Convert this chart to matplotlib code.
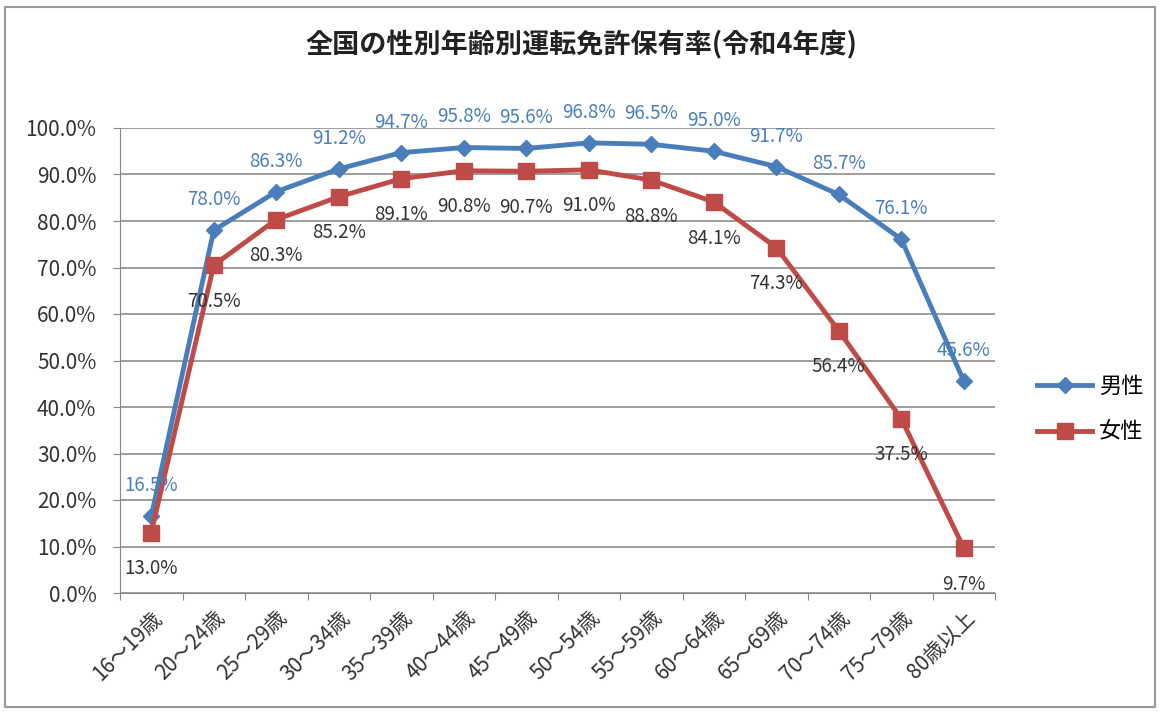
import matplotlib
matplotlib.use('Agg')
import matplotlib.pyplot as plt
from matplotlib.patches import Rectangle

plt.rcParams['font.family'] = ['Noto Sans CJK JP', 'DejaVu Sans']

# データ (令和4年度)
categories = ['16～19歳', '20～24歳', '25～29歳', '30～34歳', '35～39歳', '40～44歳', '45～49歳',
              '50～54歳', '55～59歳', '60～64歳', '65～69歳', '70～74歳', '75～79歳', '80歳以上']
male = [16.5, 78.0, 86.3, 91.2, 94.7, 95.8, 95.6, 96.8, 96.5, 95.0, 91.7, 85.7, 76.1, 45.6]
female = [13.0, 70.5, 80.3, 85.2, 89.1, 90.8, 90.7, 91.0, 88.8, 84.1, 74.3, 56.4, 37.5, 9.7]

BLUE = '#4a7ebb'
RED = '#be4b48'

fig = plt.figure(figsize=(11.62, 7.13), dpi=100)
ax = fig.add_axes([120/1162, 1-593/713, 875/1162, 465/713])

x = list(range(len(categories)))
ax.plot(x, male, color=BLUE, lw=3.5, marker='D', ms=8, label='男性', zorder=3)
ax.plot(x, female, color=RED, lw=3.5, marker='s', ms=12, label='女性', zorder=3)

for i in x:
    ax.annotate(f'{male[i]:.1f}%', (i, male[i]), xytext=(0, 22), textcoords='offset points',
                ha='center', va='center', fontsize=13.5, color=BLUE)
    ax.annotate(f'{female[i]:.1f}%', (i, female[i]), xytext=(0, -26), textcoords='offset points',
                ha='center', va='center', fontsize=13.5, color='#333333')

ax.set_xlim(-0.5, len(categories) - 0.5)
ax.set_ylim(0, 100)
ax.set_yticks(range(0, 101, 10))
ax.set_yticklabels([f'{v:.1f}%' for v in range(0, 101, 10)], fontsize=15, color='#333333')
ax.set_xticks([i + 0.5 for i in range(-1, len(categories))], minor=False)
ax.set_xticklabels([])
ax.set_xticks(x, minor=True)
ax.set_xticklabels(categories, minor=True, rotation=45, ha='right', rotation_mode='anchor',
                   fontsize=15, color='#333333')
ax.tick_params(axis='x', which='minor', length=0, pad=10)
ax.tick_params(axis='x', which='major', length=5, color='#888888', direction='out')
ax.tick_params(axis='y', length=5, color='#888888', pad=12)
ax.grid(axis='y', color='#8c8c8c', lw=1.2)
ax.set_axisbelow(True)
for s in ['top', 'right']:
    ax.spines[s].set_visible(False)
ax.spines['left'].set_color('#888888')
ax.spines['bottom'].set_color('#888888')

fig.text(0.5, 1-45/713, '全国の性別年齢別運転免許保有率(令和4年度)', ha='center', va='center',
         fontsize=19.5, fontweight='bold', color='#222222')

ax.legend(loc='center left', bbox_to_anchor=(1.025, 0.395), frameon=False, fontsize=16,
          handlelength=2.5, handletextpad=0.3, labelspacing=1.0)

fig.patches.append(Rectangle((5/1162, 6/713), 1150/1162, 700/713, transform=fig.transFigure,
                             fill=False, edgecolor='#999999', lw=1.5))

fig.savefig('out.png', dpi=100)
